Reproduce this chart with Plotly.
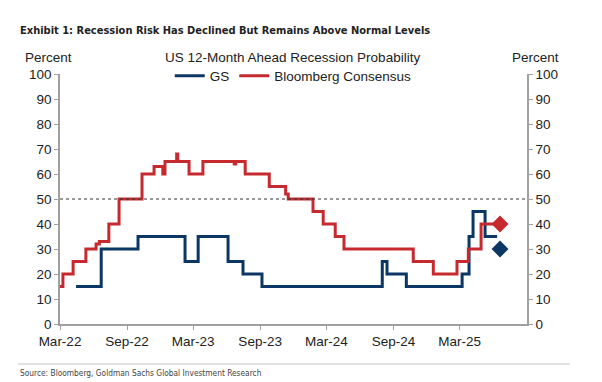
import plotly.graph_objects as go

# ---- data ----
gs_dates = ["2022-04-14", "2022-06-22", "2022-10-01", "2023-02-07", "2023-03-15",
            "2023-06-05", "2023-07-16", "2023-09-06", "2024-08-01", "2024-08-14",
            "2024-10-06", "2025-03-08", "2025-03-27", "2025-04-07", "2025-05-10",
            "2025-06-12"]
gs_values = [15, 30, 35, 25, 35, 25, 20, 15, 25, 20, 15, 20, 35, 45, 35, 35]

bb_dates = ["2022-03-01", "2022-03-09", "2022-04-06", "2022-05-11", "2022-06-08",
            "2022-06-17", "2022-07-13", "2022-08-10", "2022-10-12", "2022-11-14",
            "2022-12-08", "2022-12-14", "2023-01-15", "2023-01-18", "2023-02-18",
            "2023-03-28", "2023-06-22", "2023-06-26", "2023-07-22", "2023-09-26",
            "2023-11-10", "2023-11-17", "2024-01-24", "2024-02-21", "2024-03-25",
            "2024-04-18", "2024-10-25", "2024-12-19", "2025-02-22", "2025-03-25",
            "2025-04-29", "2025-06-05"]
bb_values = [15, 20, 25, 30, 32, 33, 40, 50, 60, 63,
             60, 65, 68, 65, 60, 65, 64, 65, 60, 55,
             52, 50, 45, 40, 35, 30, 25, 20, 25, 30,
             40, 40]

latest_date = "2025-06-20"
gs_latest = 30
bb_latest = 40

threshold = 50
x_ticks = ["2022-03-01", "2022-09-01", "2023-03-01", "2023-09-01",
           "2024-03-01", "2024-09-01", "2025-03-01"]
x_tick_labels = ["Mar-22", "Sep-22", "Mar-23", "Sep-23", "Mar-24", "Sep-24", "Mar-25"]
x_range = ["2022-03-01", "2025-09-02"]
y_ticks = list(range(0, 101, 10))

# ---- styles ----
BLUE = "#0b3764"
RED = "#c62a2f"
AX = "#a0a0a0"
FONT = "Liberation Sans, Arial, sans-serif"
NARROW = "Liberation Sans Narrow, DejaVu Sans Condensed, Arial Narrow, sans-serif"

# page has an 8px body margin; figure is sized to fill the rest of the window
OFF = 8
W, H = 602 - OFF, 382 - OFF
L, T = 60 - OFF, 74 - OFF
PW, PH = 467, 250


def px(x):  # target-window x pixel -> paper fraction
    return (x - 60) / PW


def py(y):  # target-window y pixel -> paper fraction
    return (324 - y) / PH


fig = go.Figure()
fig.add_trace(go.Scatter(x=gs_dates, y=gs_values, mode="lines", name="GS",
                         line=dict(color=BLUE, width=3, shape="hv")))
fig.add_trace(go.Scatter(x=bb_dates, y=bb_values, mode="lines", name="Bloomberg Consensus",
                         line=dict(color=RED, width=3, shape="hv")))
fig.add_trace(go.Scatter(x=[latest_date], y=[gs_latest], mode="markers", showlegend=False,
                         marker=dict(symbol="diamond", size=13, color=BLUE)))
fig.add_trace(go.Scatter(x=[latest_date], y=[bb_latest], mode="markers", showlegend=False,
                         marker=dict(symbol="diamond", size=13, color=RED)))
# invisible trace to activate right axis
fig.add_trace(go.Scatter(x=[x_range[0]], y=[0], yaxis="y2", mode="markers",
                         marker=dict(opacity=0), showlegend=False, hoverinfo="skip"))

fig.add_shape(type="line", xref="paper", x0=0, x1=1, yref="y", y0=threshold, y1=threshold,
              line=dict(color="#333333", width=1, dash="dot"))

yax = dict(range=[0, 100], tickvals=y_ticks, showgrid=False, zeroline=False,
           showline=True, linecolor=AX, linewidth=1.5, ticks="outside", ticklen=4,
           tickcolor=AX, tickfont=dict(family=FONT, size=13.5, color="#222"))

fig.update_layout(
    width=W, height=H,
    margin=dict(l=L, r=W - L - PW, t=T, b=H - T - PH),
    paper_bgcolor="white", plot_bgcolor="white",
    xaxis=dict(type="date", range=x_range, tickvals=x_ticks, ticktext=x_tick_labels,
               showgrid=False, zeroline=False, showline=True, linecolor=AX, linewidth=1.5,
               ticks="outside", ticklen=4, tickcolor=AX,
               tickfont=dict(family=FONT, size=13.5, color="#222")),
    yaxis=yax,
    yaxis2=dict(yax, overlaying="y", side="right"),
    showlegend=True,
    legend=dict(orientation="h", x=0.235, xanchor="left", y=py(76), yanchor="middle",
                bgcolor="rgba(0,0,0,0)", font=dict(family=FONT, size=13.5, color="#222"),
                itemwidth=30),
    annotations=[
        dict(text="<b>Exhibit 1: Recession Risk Has Declined But Remains Above Normal Levels</b>",
             xref="paper", yref="paper", x=px(18), xanchor="left",
             y=py(30), yanchor="middle", showarrow=False,
             font=dict(family=NARROW, size=11, color="#222")),
        dict(text="US 12-Month Ahead Recession Probability", xref="paper", yref="paper",
             x=px(292), xanchor="center", y=py(58), yanchor="middle",
             showarrow=False, font=dict(family=FONT, size=13.5, color="#222")),
        dict(text="Percent", xref="paper", yref="paper", x=px(48), xanchor="center",
             y=py(58), yanchor="middle", showarrow=False,
             font=dict(family=FONT, size=13.5, color="#222")),
        dict(text="Percent", xref="paper", yref="paper", x=px(535), xanchor="center",
             y=py(58), yanchor="middle", showarrow=False,
             font=dict(family=FONT, size=13.5, color="#222")),
        dict(text="Source: Bloomberg, Goldman Sachs Global Investment Research",
             xref="paper", yref="paper", x=px(18), xanchor="left",
             y=py(373), yanchor="middle", showarrow=False,
             font=dict(family=NARROW, size=8.3, color="#444")),
    ],
    shapes=[
        dict(type="line", xref="paper", yref="paper", x0=px(18), x1=px(570),
             y0=py(17), y1=py(17), line=dict(color="#c4c4c4", width=1.2)),
        dict(type="line", xref="paper", yref="paper", x0=px(18), x1=px(570),
             y0=py(364), y1=py(364), line=dict(color="#c4c4c4", width=1.2)),
    ],
)
fig.update_shapes(layer="above")

fig.write_html("out.html")
